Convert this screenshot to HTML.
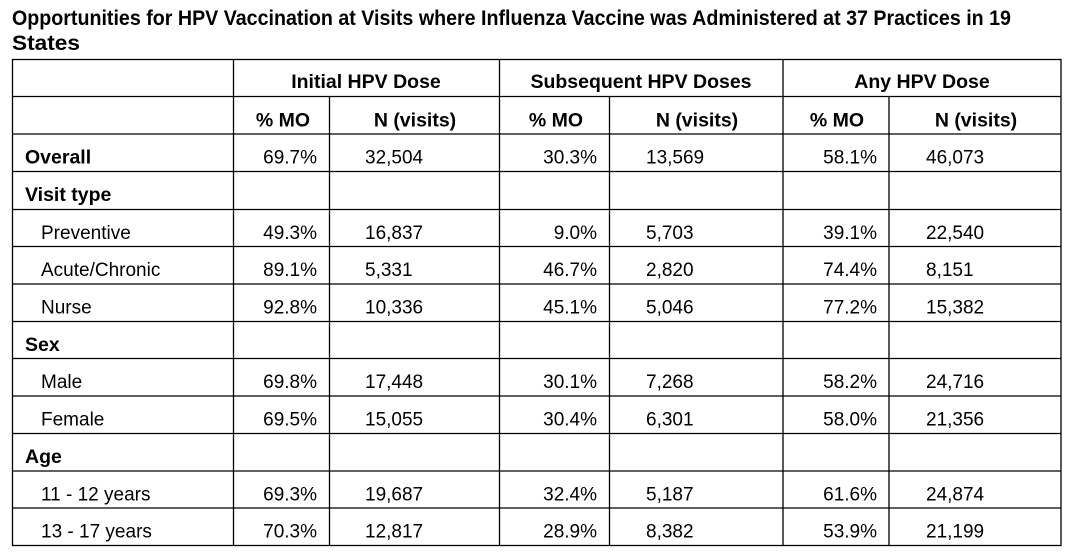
<!DOCTYPE html>
<html>
<head>
<meta charset="utf-8">
<style>
  html, body { margin: 0; padding: 0; background: #fff; }
  svg { display: block; }
  text { font-family: "Liberation Sans", Arial, sans-serif; fill: #000; }
  .t { font-size: 21px; font-weight: bold; }
  .h { font-size: 19.5px; font-weight: bold; }
  .b { font-size: 19.5px; font-weight: bold; }
  .d { font-size: 19px; }
</style>
</head>
<body>
<svg width="1071" height="556" viewBox="0 0 1071 556" xmlns="http://www.w3.org/2000/svg">
  <rect x="0" y="0" width="1071" height="556" fill="#fff"/>

  <!-- Title -->
  <text class="t" x="12" y="25" textLength="999" lengthAdjust="spacingAndGlyphs">Opportunities for HPV Vaccination at Visits where Influenza Vaccine was Administered at 37 Practices in 19</text>
  <text class="t" x="12" y="50" textLength="68" lengthAdjust="spacingAndGlyphs">States</text>

  <!-- Grid lines -->
  <g stroke="#000" stroke-width="1.3" fill="none">
    <!-- outer border -->
    <rect x="12.5" y="59.5" width="1048.5" height="486"/>
    <!-- horizontal lines -->
    <line x1="12.5" y1="96.5" x2="1061" y2="96.5"/>
    <line x1="12.5" y1="134" x2="1061" y2="134"/>
    <line x1="12.5" y1="171.5" x2="1061" y2="171.5"/>
    <line x1="12.5" y1="209.5" x2="1061" y2="209.5"/>
    <line x1="12.5" y1="246.5" x2="1061" y2="246.5"/>
    <line x1="12.5" y1="284" x2="1061" y2="284"/>
    <line x1="12.5" y1="321.5" x2="1061" y2="321.5"/>
    <line x1="12.5" y1="358.5" x2="1061" y2="358.5"/>
    <line x1="12.5" y1="396" x2="1061" y2="396"/>
    <line x1="12.5" y1="433.5" x2="1061" y2="433.5"/>
    <line x1="12.5" y1="471" x2="1061" y2="471"/>
    <line x1="12.5" y1="508" x2="1061" y2="508"/>
    <!-- vertical lines full height -->
    <line x1="233.5" y1="59.5" x2="233.5" y2="545.5"/>
    <line x1="499.5" y1="59.5" x2="499.5" y2="545.5"/>
    <line x1="783" y1="59.5" x2="783" y2="545.5"/>
    <!-- vertical lines under group headers -->
    <line x1="329.5" y1="96.5" x2="329.5" y2="545.5"/>
    <line x1="609.5" y1="96.5" x2="609.5" y2="545.5"/>
    <line x1="889" y1="96.5" x2="889" y2="545.5"/>
  </g>

  <!-- Header row 1 -->
  <text class="h" x="366" y="88" text-anchor="middle">Initial HPV Dose</text>
  <text class="h" x="641" y="88" text-anchor="middle">Subsequent HPV Doses</text>
  <text class="h" x="922" y="88" text-anchor="middle">Any HPV Dose</text>

  <!-- Header row 2 -->
  <text class="h" x="283" y="126.5" text-anchor="middle">% MO</text>
  <text class="h" x="415" y="126.5" text-anchor="middle">N (visits)</text>
  <text class="h" x="556" y="126.5" text-anchor="middle">% MO</text>
  <text class="h" x="697" y="126.5" text-anchor="middle">N (visits)</text>
  <text class="h" x="837" y="126.5" text-anchor="middle">% MO</text>
  <text class="h" x="976" y="126.5" text-anchor="middle">N (visits)</text>

  <!-- Row labels -->
  <text class="b" x="25" y="163.5">Overall</text>
  <text class="b" x="25" y="201">Visit type</text>
  <text class="d" x="41" y="239">Preventive</text>
  <text class="d" x="41" y="276">Acute/Chronic</text>
  <text class="d" x="41" y="313.5">Nurse</text>
  <text class="b" x="25" y="351">Sex</text>
  <text class="d" x="41" y="388">Male</text>
  <text class="d" x="41" y="425.5">Female</text>
  <text class="b" x="25" y="463">Age</text>
  <text class="d" x="41" y="500.5">11 - 12 years</text>
  <text class="d" x="41" y="537.5">13 - 17 years</text>

  <!-- Overall -->
  <g class="d">
    <text class="d" x="317" y="163.5" text-anchor="end">69.7%</text>
    <text class="d" x="365" y="163.5">32,504</text>
    <text class="d" x="597" y="163.5" text-anchor="end">30.3%</text>
    <text class="d" x="646" y="163.5">13,569</text>
    <text class="d" x="877" y="163.5" text-anchor="end">58.1%</text>
    <text class="d" x="926" y="163.5">46,073</text>

    <!-- Preventive -->
    <text class="d" x="317" y="239" text-anchor="end">49.3%</text>
    <text class="d" x="365" y="239">16,837</text>
    <text class="d" x="597" y="239" text-anchor="end">9.0%</text>
    <text class="d" x="646" y="239">5,703</text>
    <text class="d" x="877" y="239" text-anchor="end">39.1%</text>
    <text class="d" x="926" y="239">22,540</text>

    <!-- Acute/Chronic -->
    <text class="d" x="317" y="276" text-anchor="end">89.1%</text>
    <text class="d" x="365" y="276">5,331</text>
    <text class="d" x="597" y="276" text-anchor="end">46.7%</text>
    <text class="d" x="646" y="276">2,820</text>
    <text class="d" x="877" y="276" text-anchor="end">74.4%</text>
    <text class="d" x="926" y="276">8,151</text>

    <!-- Nurse -->
    <text class="d" x="317" y="313.5" text-anchor="end">92.8%</text>
    <text class="d" x="365" y="313.5">10,336</text>
    <text class="d" x="597" y="313.5" text-anchor="end">45.1%</text>
    <text class="d" x="646" y="313.5">5,046</text>
    <text class="d" x="877" y="313.5" text-anchor="end">77.2%</text>
    <text class="d" x="926" y="313.5">15,382</text>

    <!-- Male -->
    <text class="d" x="317" y="388" text-anchor="end">69.8%</text>
    <text class="d" x="365" y="388">17,448</text>
    <text class="d" x="597" y="388" text-anchor="end">30.1%</text>
    <text class="d" x="646" y="388">7,268</text>
    <text class="d" x="877" y="388" text-anchor="end">58.2%</text>
    <text class="d" x="926" y="388">24,716</text>

    <!-- Female -->
    <text class="d" x="317" y="425.5" text-anchor="end">69.5%</text>
    <text class="d" x="365" y="425.5">15,055</text>
    <text class="d" x="597" y="425.5" text-anchor="end">30.4%</text>
    <text class="d" x="646" y="425.5">6,301</text>
    <text class="d" x="877" y="425.5" text-anchor="end">58.0%</text>
    <text class="d" x="926" y="425.5">21,356</text>

    <!-- 11 - 12 years -->
    <text class="d" x="317" y="500.5" text-anchor="end">69.3%</text>
    <text class="d" x="365" y="500.5">19,687</text>
    <text class="d" x="597" y="500.5" text-anchor="end">32.4%</text>
    <text class="d" x="646" y="500.5">5,187</text>
    <text class="d" x="877" y="500.5" text-anchor="end">61.6%</text>
    <text class="d" x="926" y="500.5">24,874</text>

    <!-- 13 - 17 years -->
    <text class="d" x="317" y="537.5" text-anchor="end">70.3%</text>
    <text class="d" x="365" y="537.5">12,817</text>
    <text class="d" x="597" y="537.5" text-anchor="end">28.9%</text>
    <text class="d" x="646" y="537.5">8,382</text>
    <text class="d" x="877" y="537.5" text-anchor="end">53.9%</text>
    <text class="d" x="926" y="537.5">21,199</text>
  </g>
</svg>
</body>
</html>
